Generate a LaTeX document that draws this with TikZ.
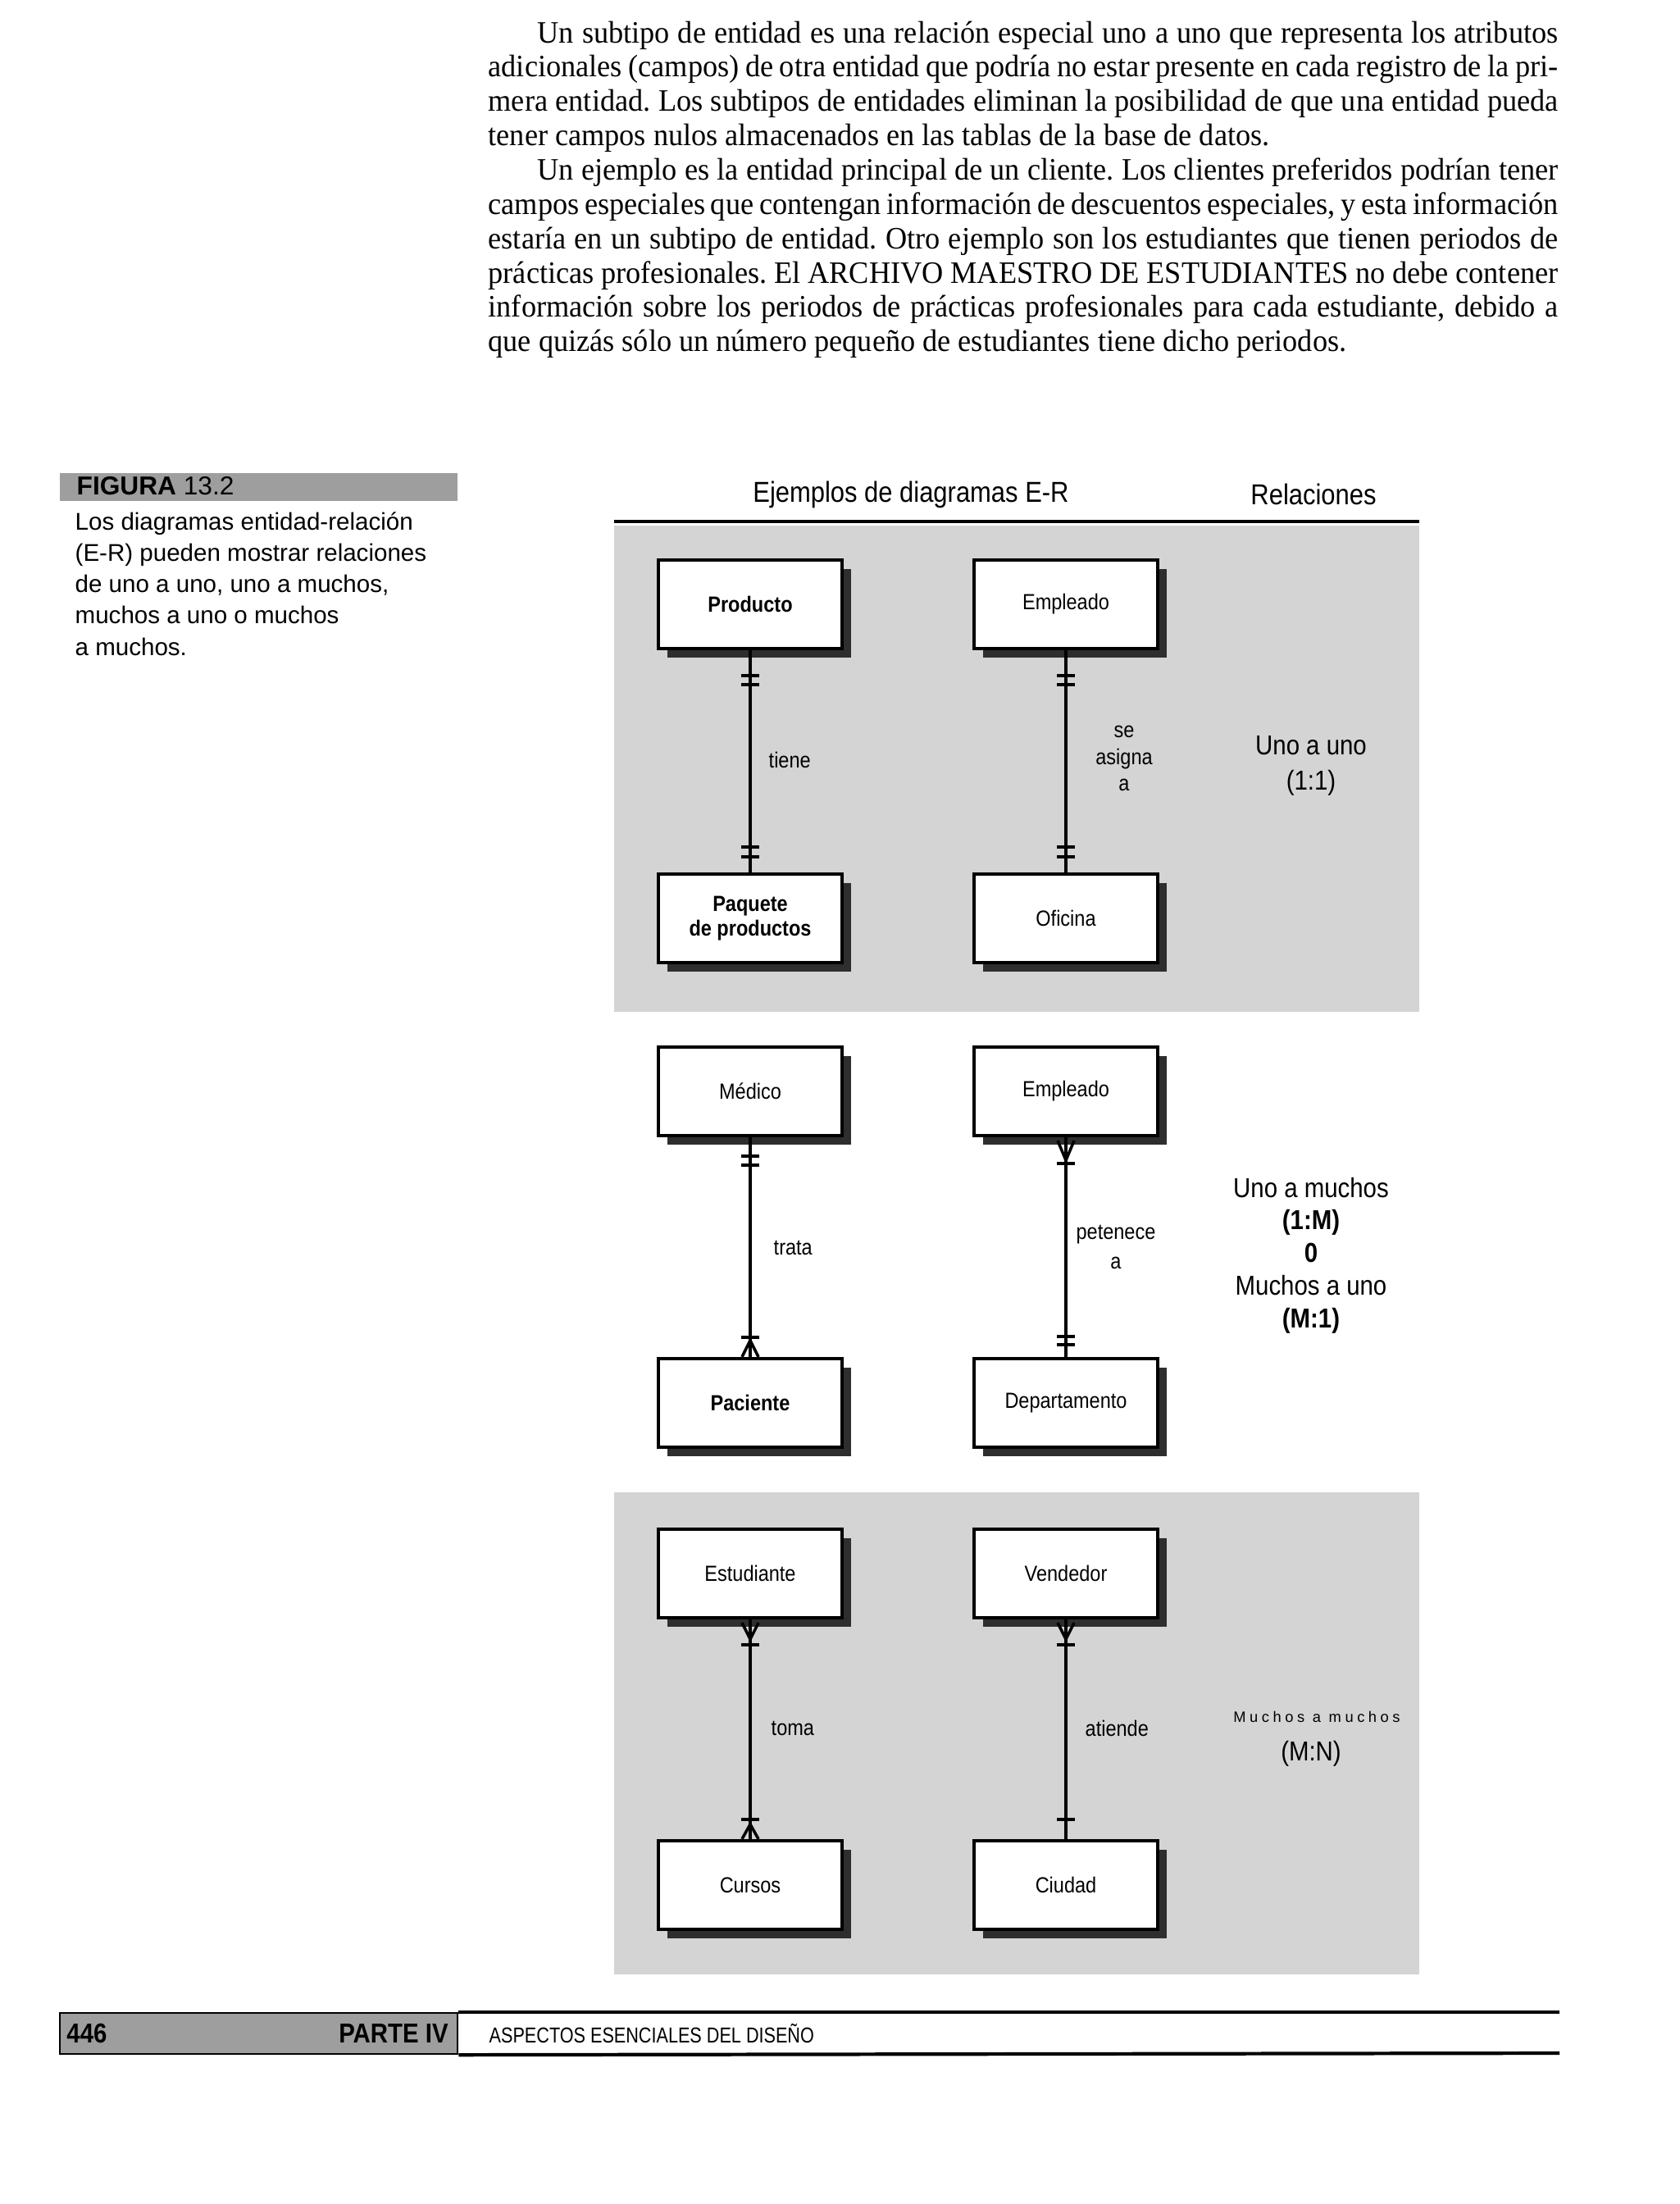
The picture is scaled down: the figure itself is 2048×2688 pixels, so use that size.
\documentclass[tikz,border=0pt]{standalone}
\usepackage{fontspec}
\setmainfont{Liberation Serif}
\setsansfont{Liberation Sans}
\newfontfamily\bodyserif[FakeStretch=0.955]{Liberation Serif}
\newfontfamily\narrowsans[FakeStretch=0.88]{Liberation Sans}
\newfontfamily\footsans[FakeStretch=0.82]{Liberation Sans}
\newfontfamily\spacedsans[LetterSpace=25]{Liberation Sans}
\usetikzlibrary{arrows.meta,positioning,calc,shadows}
\definecolor{dither}{gray}{0.83}
\definecolor{barfill}{gray}{0.62}
\definecolor{shade}{gray}{0.18}
\newcommand{\onebar}[2]{\draw[erbar] ($(#1)+(-11,#2)$) -- ++(22,0);}
\newcommand{\crowfoot}[3]{\draw[erbar] ($(#1)+(-10,#2)$) -- ($(#1)+(0,#3)$) -- ($(#1)+(10,#2)$);}
\frenchspacing

\begin{document}
\begin{tikzpicture}[
  x=0.01cm,y=-0.01cm,
  entity/.style={draw,line width=1.2pt,fill=white,minimum width=2.24cm,minimum height=1.08cm,
    align=center,inner sep=1pt,font=\narrowsans\fontsize{7.6}{8.6}\selectfont,
    drop shadow={shadow xshift=0.11cm,shadow yshift=-0.11cm,fill=shade,opacity=1}},
  rel/.style={line width=1pt},
  erbar/.style={line width=1pt},
  lbl/.style={font=\narrowsans\fontsize{7.6}{9.3}\selectfont,inner sep=0pt,align=center},
  rlbl/.style={font=\narrowsans\fontsize{9.5}{11.3}\selectfont,inner sep=0pt,align=center},
  hdr/.style={font=\narrowsans\fontsize{10}{12}\selectfont,inner sep=0pt}
]
\useasboundingbox (0,0) rectangle (2048,2688);
\fill[white] (0,0) rectangle (2048,2688);

\node[anchor=north west,inner sep=0pt,text width=13.04cm,align=justify,
  font=\bodyserif\fontsize{10.8}{11.9}\selectfont] (para) at (595,25) {%
\hspace*{0.6cm}Un subtipo de entidad es una relación especial uno a uno que representa los atributos\linebreak
adicionales (campos) de otra entidad que podría no estar presente en cada registro de la pri-\linebreak
mera entidad. Los subtipos de entidades eliminan la posibilidad de que una entidad pueda\linebreak
tener campos nulos almacenados en las tablas de la base de datos.\\
\hspace*{0.6cm}Un ejemplo es la entidad principal de un cliente. Los clientes preferidos podrían tener\linebreak
campos especiales que contengan información de descuentos especiales, y esta información\linebreak
estaría en un subtipo de entidad. Otro ejemplo son los estudiantes que tienen periodos de\linebreak
prácticas profesionales. El ARCHIVO MAESTRO DE ESTUDIANTES no debe contener\linebreak
información sobre los periodos de prácticas profesionales para cada estudiante, debido a\linebreak
que quizás sólo un número pequeño de estudiantes tiene dicho periodos.\\};

\node[fill=barfill,anchor=north west,minimum width=4.85cm,minimum height=0.34cm,inner sep=0pt] (figbar) at (72,576) {};
\node[anchor=west,inner sep=0pt,font=\sffamily\fontsize{9}{10}\selectfont] (figlbl) at (93,593) {\textbf{FIGURA} 13.2};
\node[anchor=north west,align=left,inner sep=0pt,font=\sffamily\fontsize{8.4}{10.85}\selectfont] (caption) at (91,624)
  {Los diagramas entidad-relación\\(E-R) pueden mostrar relaciones\\de uno a uno, uno a muchos,\\muchos a uno o muchos\\a muchos.};

\node[hdr] (hdrer) at (1111,603) {Ejemplos de diagramas E-R};
\node[hdr] (hdrrel) at (1602,603) {Relaciones};
\draw[line width=1.3pt] (749,636) -- (1731,636);
\fill[dither] (749,641) rectangle (1731,1234);
\fill[dither] (749,1820) rectangle (1731,2408);

\node[entity] (prod) at (915,737) {\bfseries Producto};
\node[entity] (emp1) at (1300,737) {Empleado};
\node[entity] (paq) at (915,1120) {\bfseries Paquete\\\bfseries de productos};
\node[entity] (ofi) at (1300,1120) {Oficina};
\node[entity] (med) at (915,1331) {Médico};
\node[entity] (emp2) at (1300,1331) {Empleado};
\node[entity] (pac) at (915,1711) {\bfseries Paciente};
\node[entity] (dep) at (1300,1711) {Departamento};
\node[entity] (est) at (915,1919) {Estudiante};
\node[entity] (ven) at (1300,1919) {Vendedor};
\node[entity] (cur) at (915,2299) {Cursos};
\node[entity] (ciu) at (1300,2299) {Ciudad};

\draw[rel] (prod.south) -- (paq.north);
\draw[rel] (emp1.south) -- (ofi.north);
\draw[rel] (med.south) -- (pac.north);
\draw[rel] (emp2.south) -- (dep.north);
\draw[rel] (est.south) -- (cur.north);
\draw[rel] (ven.south) -- (ciu.north);

\onebar{prod.south}{31} \onebar{prod.south}{42}
\onebar{paq.north}{-31} \onebar{paq.north}{-19}
\onebar{emp1.south}{31} \onebar{emp1.south}{42}
\onebar{ofi.north}{-31} \onebar{ofi.north}{-19}
\onebar{med.south}{23} \onebar{med.south}{34}
\onebar{pac.north}{-24} \crowfoot{pac.north}{0}{-20}
\crowfoot{emp2.south}{4}{28} \onebar{emp2.south}{32}
\onebar{dep.north}{-25} \onebar{dep.north}{-15}
\crowfoot{est.south}{4}{24} \onebar{est.south}{31}
\onebar{cur.north}{-24} \crowfoot{cur.north}{0}{-18}
\crowfoot{ven.south}{4}{24} \onebar{ven.south}{31}
\onebar{ciu.north}{-24}

\node[lbl,anchor=west] (tiene) at (937,927) {tiene};
\node[lbl] (asigna) at (1371,925) {se\\asigna\\a};
\node[rlbl,font=\narrowsans\fontsize{9.5}{12}\selectfont] (uno11) at (1599,934) {Uno a uno\\(1:1)};
\node[lbl,anchor=west] (trata) at (943,1522) {trata};
\node[lbl,font=\narrowsans\fontsize{7.6}{10.3}\selectfont] (pertenece) at (1361,1521) {petenece\\a};
\node[rlbl] (uno1m) at (1599,1531) {Uno a muchos\\\textbf{(1:M)}\\\textbf{0}\\Muchos a uno\\\textbf{(M:1)}};
\node[lbl,anchor=west] (toma) at (940,2108) {toma};
\node[lbl,anchor=west] (atiende) at (1323,2108) {atiende};
\node[inner sep=0pt,font=\spacedsans\fontsize{5.2}{6}\selectfont] (mnword) at (1606,2094) {Muchos a muchos};
\node[rlbl] (mn) at (1599,2139) {(M:N)};

\node[fill=barfill,draw,line width=0.6pt,anchor=north west,minimum width=4.85cm,minimum height=0.5cm,inner sep=0pt] (footbar) at (72,2454) {};
\draw[line width=1.2pt] (footbar.north east) -- (1902,2454);
\draw[line width=1.2pt] (footbar.south east) -- (1902,2504);
\node[inner sep=0pt,font=\narrowsans\fontsize{9.5}{11}\selectfont] (pagenum) at (106,2480) {\textbf{446}};
\node[inner sep=0pt,font=\narrowsans\fontsize{9.5}{11}\selectfont] (partlbl) at (480,2480) {\textbf{PARTE IV}};
\node[anchor=west,inner sep=0pt,font=\footsans\fontsize{7.5}{9}\selectfont] (chapter) at (596,2480) {ASPECTOS ESENCIALES DEL DISEÑO};
\end{tikzpicture}
\end{document}
